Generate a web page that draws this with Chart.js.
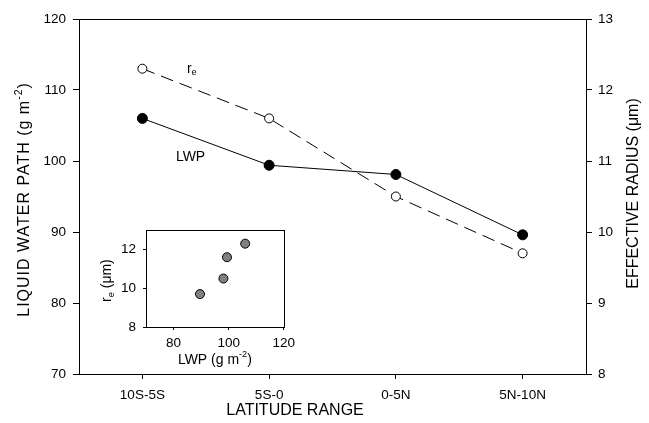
<!DOCTYPE html>
<html>
<head>
<meta charset="utf-8">
<script src="https://cdn.jsdelivr.net/npm/chart.js@4"></script>
<style>
    html, body { margin: 0; padding: 0; background: #fff; }
    #wrap { position: relative; width: 649px; height: 423px; }
    #mainChart { position: absolute; left: 0; top: 0; }
    #insetChart { position: absolute; left: 90px; top: 215px; }
</style>
</head>
<body>
<div id="wrap">
    <canvas id="mainChart" width="649" height="423"></canvas>
    <canvas id="insetChart" width="210" height="165"></canvas>
</div>
<script>
// data
const latitudeRanges = ['10S-5S', '5S-0', '0-5N', '5N-10N'];
const lwpValues = [106.0, 99.4, 98.1, 89.6];      // g m-2, left axis
const reValues = [12.3, 11.6, 10.5, 9.7];         // um, right axis
const lwpRange = [70, 120];
const reRange = [8, 13];

;
(function(window, document) {
    'use strict';

    const FONT = "'Liberation Sans', Arial, Helvetica, sans-serif";

    Chart.defaults.color = '#000';
    Chart.defaults.font.family = FONT;

    // text with optional sub/superscript parts, centred on (x, y)
    function drawRich(ctx, parts, x, y, angle, size, spacing) {
        ctx.save();
        ctx.translate(x, y);
        ctx.rotate(angle || 0);
        ctx.fillStyle = '#000';
        ctx.textBaseline = 'middle';
        ctx.textAlign = 'left';
        if ('letterSpacing' in ctx) {
            ctx.letterSpacing = (spacing || 0) + 'px';
        }
        let fonts = parts.map(p => ((p.sup || p.sub) ? size * 0.65 : size) + 'px ' + FONT);
        let widths = parts.map((p, i) => {
            ctx.font = fonts[i];
            return ctx.measureText(p.t).width;
        });
        let total = widths.reduce((a, b) => a + b, 0);
        let cx = -total / 2;
        parts.forEach((p, i) => {
            ctx.font = fonts[i];
            let dy = p.sup ? -size * 0.38 : (p.sub ? size * 0.3 : 0);
            ctx.fillText(p.t, cx, dy);
            cx += widths[i];
        });
        ctx.restore();
    }

    function frame(ctx, area) {
        ctx.save();
        ctx.strokeStyle = '#000';
        ctx.lineWidth = 1;
        ctx.strokeRect(Math.round(area.left) + 0.5, Math.round(area.top) + 0.5,
            Math.round(area.right - area.left), Math.round(area.bottom - area.top));
        ctx.restore();
    }

    function axisStyle(tickLength) {
        return {
            grid: { drawOnChartArea: false, drawTicks: true, tickLength: tickLength, color: '#000', offset: false },
            border: { display: true, color: '#000', width: 1 }
        };
    }

    let mainDecor = {
        id: 'mainDecor',
        afterDraw(chart) {
            let ctx = chart.ctx;
            let a = chart.chartArea;
            let xs = chart.scales.x;
            let step = xs.getPixelForValue(1) - xs.getPixelForValue(0);
            frame(ctx, a);

            drawRich(ctx, [{ t: 'LIQUID WATER PATH (g m' }, { t: '-2', sup: true }, { t: ')' }],
                25, (a.top + a.bottom) / 2 + 3, -Math.PI / 2, 16, 1);
            drawRich(ctx, [{ t: 'EFFECTIVE RADIUS (\u03bcm)' }],
                634, (a.top + a.bottom) / 2 - 3, -Math.PI / 2, 16, 0);
            drawRich(ctx, [{ t: 'LATITUDE RANGE' }],
                a.left + 216, 411, 0, 16, 0);

            // series labels inside the plot
            drawRich(ctx, [{ t: 'r' }, { t: 'e', sub: true }],
                xs.getPixelForValue(0) + 0.39 * step, chart.scales.y1.getPixelForValue(12.3), 0, 14, 0);
            drawRich(ctx, [{ t: 'LWP' }],
                xs.getPixelForValue(0) + 0.38 * step, chart.scales.y.getPixelForValue(100.6), 0, 14, 0);
        }
    };

    let insetDecor = {
        id: 'insetDecor',
        afterDraw(chart) {
            let ctx = chart.ctx;
            let a = chart.chartArea;
            frame(ctx, a);
            drawRich(ctx, [{ t: 'LWP (g m' }, { t: '-2', sup: true }, { t: ')' }],
                (a.left + a.right) / 2, a.bottom + 33, 0, 14, 0);
            drawRich(ctx, [{ t: 'r' }, { t: 'e', sub: true }, { t: ' (\u03bcm)' }],
                17, (a.top + a.bottom) / 2 + 2, -Math.PI / 2, 14, 0);
        }
    };

    let tickFont = { size: 13.5, family: FONT };

    new Chart(document.getElementById('mainChart'), {
        type: 'line',
        data: {
            labels: latitudeRanges,
            datasets: [{
                label: 'LWP',
                data: lwpValues,
                yAxisID: 'y',
                borderColor: '#000',
                borderWidth: 1,
                pointRadius: 5,
                pointBorderWidth: 1,
                pointBackgroundColor: '#000',
                pointBorderColor: '#000',
                tension: 0
            }, {
                label: 're',
                data: reValues,
                yAxisID: 'y1',
                borderColor: '#000',
                borderWidth: 1,
                borderDash: [13, 7],
                pointRadius: 4.5,
                pointBorderWidth: 1,
                pointBackgroundColor: '#fff',
                pointBorderColor: '#000',
                tension: 0
            }]
        },
        options: {
            responsive: false,
            animation: false,
            devicePixelRatio: 1,
            layout: { padding: { top: 19, left: 0, right: 0, bottom: 0 } },
            plugins: { legend: { display: false }, tooltip: { enabled: false } },
            scales: {
                x: Object.assign(axisStyle(5), {
                    type: 'category',
                    offset: true,
                    ticks: { font: tickFont, padding: 8, maxRotation: 0, autoSkip: false },
                    afterFit: function(scale) { scale.height = 49; }
                }),
                y: Object.assign(axisStyle(6), {
                    position: 'left',
                    min: lwpRange[0],
                    max: lwpRange[1],
                    ticks: { stepSize: 10, font: tickFont, padding: 7 },
                    afterFit: function(scale) { scale.width = 79; }
                }),
                y1: Object.assign(axisStyle(6), {
                    position: 'right',
                    min: reRange[0],
                    max: reRange[1],
                    ticks: { stepSize: 1, font: tickFont, padding: 6 },
                    afterFit: function(scale) { scale.width = 63; }
                })
            }
        },
        plugins: [mainDecor]
    });

    new Chart(document.getElementById('insetChart'), {
        type: 'scatter',
        data: {
            datasets: [{
                data: lwpValues.map((v, i) => ({ x: v, y: reValues[i] })),
                pointRadius: 4.5,
                pointBorderWidth: 1,
                pointBackgroundColor: '#808080',
                pointBorderColor: '#000'
            }]
        },
        options: {
            responsive: false,
            animation: false,
            devicePixelRatio: 1,
            layout: { padding: { top: 12, left: 0, right: 14, bottom: 0 } },
            plugins: { legend: { display: false }, tooltip: { enabled: false } },
            scales: {
                x: Object.assign(axisStyle(3), {
                    type: 'linear',
                    min: lwpRange[0],
                    max: lwpRange[1],
                    afterBuildTicks: function(scale) {
                        scale.ticks = [80, 100, 120].map(v => ({ value: v }));
                    },
                    ticks: { font: tickFont, padding: 5 },
                    afterFit: function(scale) { scale.height = 53; }
                }),
                y: Object.assign(axisStyle(3), {
                    min: reRange[0],
                    max: reRange[1],
                    afterBuildTicks: function(scale) {
                        scale.ticks = [8, 10, 12].map(v => ({ value: v }));
                    },
                    ticks: { font: tickFont, padding: 7 },
                    afterFit: function(scale) { scale.width = 56; }
                })
            }
        },
        plugins: [insetDecor]
    });

})(window, document);
</script>
</body>
</html>
